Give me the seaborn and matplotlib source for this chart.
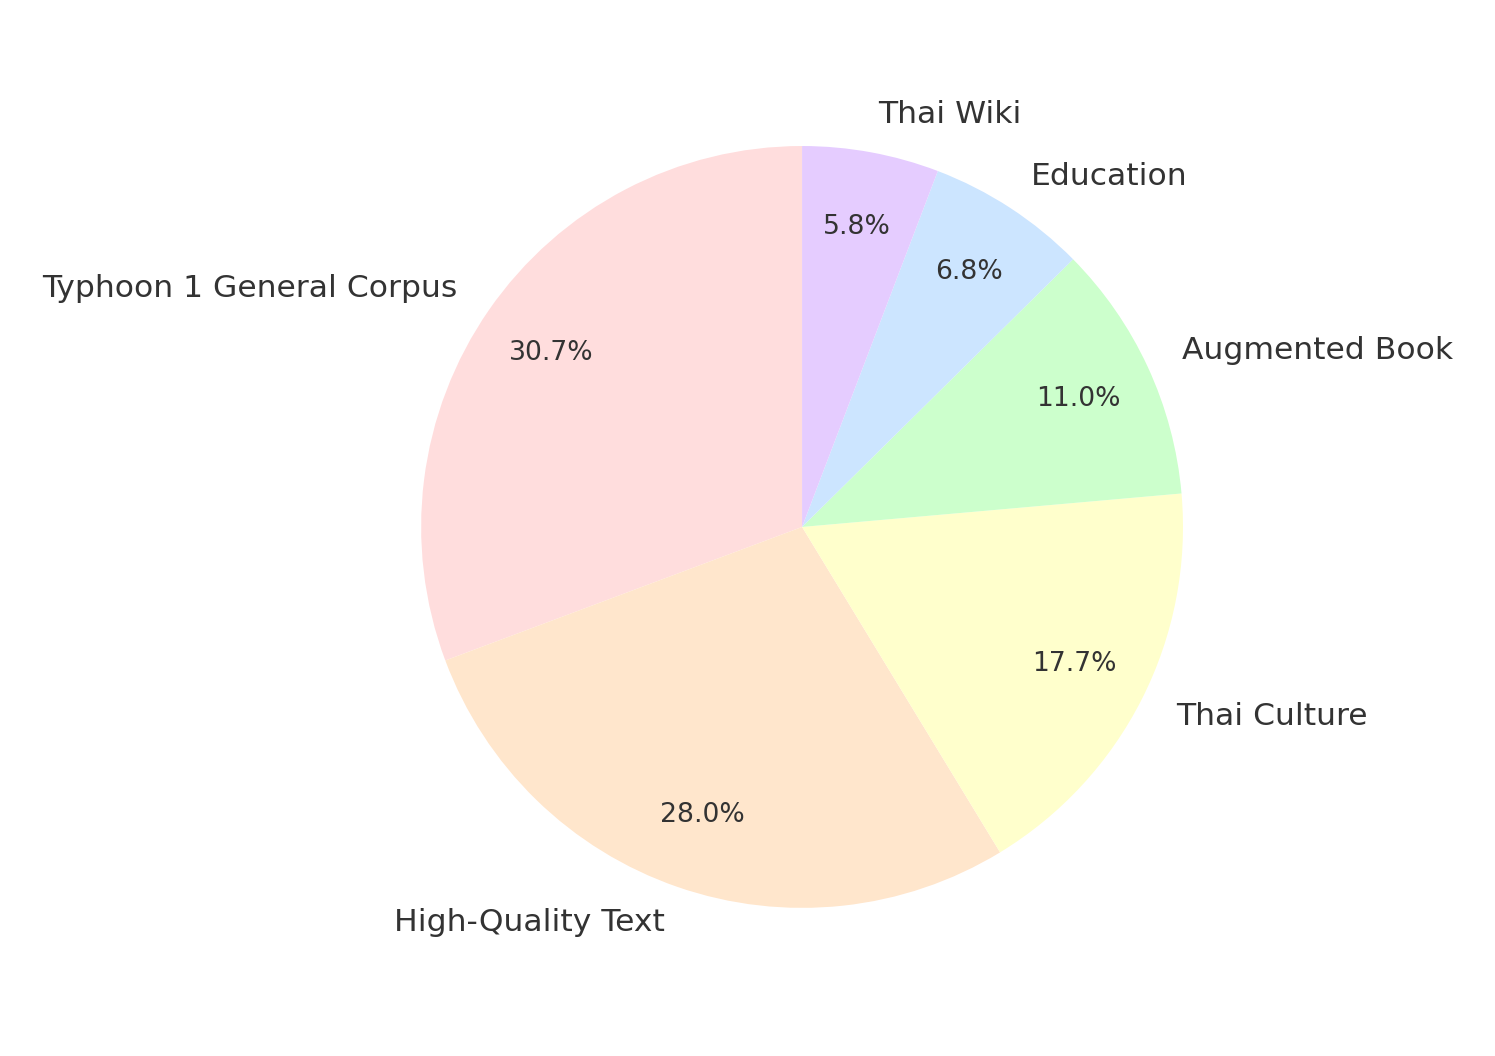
import matplotlib
matplotlib.use("Agg")
import matplotlib.pyplot as plt
import seaborn as sns

labels = ["Typhoon 1 General Corpus", "High-Quality Text", "Thai Culture",
          "Augmented Book", "Education", "Thai Wiki"]
shares = [30.7, 28.0, 17.7, 11.0, 6.8, 5.8]
colors = ["#FFDDDD", "#FFE6CC", "#FFFFCC", "#CCFFCC", "#CCE5FF", "#E5CCFF"]

sns.set_theme(style="white")
plt.rcParams["font.family"] = ["DejaVu Sans"]

fig = plt.figure(figsize=(14.95, 10.56), dpi=100)
ax = fig.add_axes([0.218, 0.050, 0.637, 0.902])
wedges, texts, autotexts = ax.pie(
    shares, labels=labels, colors=colors, startangle=90, counterclock=True,
    autopct="%1.1f%%", pctdistance=0.8, labeldistance=1.1,
    wedgeprops={"linewidth": 0},
    textprops={"color": "#333333", "fontsize": 22.6},
)
for t in autotexts:
    t.set_fontsize(19.2)
ax.set_aspect("equal")

fig.savefig("out.png", dpi=100, facecolor="white")
plt.close(fig)
